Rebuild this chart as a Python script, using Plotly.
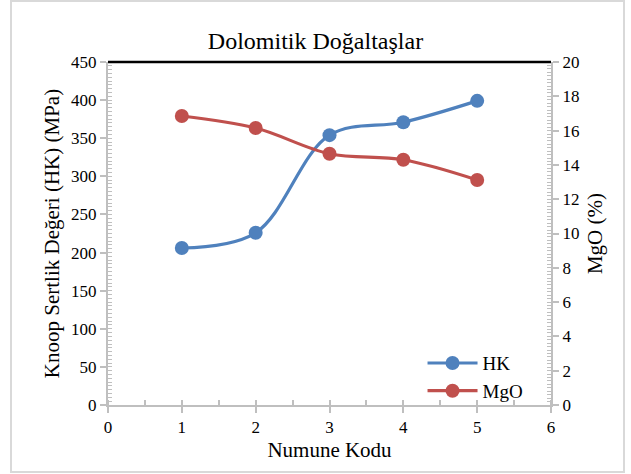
import plotly.graph_objects as go

# Sample codes and measured values
numune = [1, 2, 3, 4, 5]
hk = [206, 226, 354, 371, 399]          # Knoop hardness (MPa)
mgo = [16.85, 16.15, 14.65, 14.3, 13.12]  # MgO content (%)

FONT = "Times New Roman, Liberation Serif, DejaVu Serif, serif"
AXIS_GRAY = "#bfbfbf"

fig = go.Figure()

fig.add_trace(go.Scatter(
    x=numune, y=hk, name="HK", mode="lines+markers",
    line=dict(color="#4f81bd", width=3.2, shape="spline", smoothing=1),
    marker=dict(color="#4f81bd", size=14),
))
fig.add_trace(go.Scatter(
    x=numune, y=mgo, name="MgO", mode="lines+markers", yaxis="y2",
    line=dict(color="#c0504d", width=3.2, shape="spline", smoothing=1),
    marker=dict(color="#c0504d", size=14),
))

fig.update_layout(
    width=631, height=474,
    margin=dict(l=108, r=80, t=62, b=69),
    paper_bgcolor="white", plot_bgcolor="white",
    font=dict(family=FONT, color="black", size=16),
    title=dict(text="Dolomitik Doğaltaşlar", x=0.5, xanchor="center",
               y=0.915, yanchor="middle", font=dict(family=FONT, size=24)),
    showlegend=True,
    legend=dict(x=0.71, y=-0.015, xanchor="left", yanchor="bottom",
                bgcolor="rgba(0,0,0,0)", font=dict(family=FONT, size=19),
                itemwidth=50, tracegroupgap=0),
    xaxis=dict(
        range=[0, 6], dtick=1, showgrid=False, zeroline=False,
        showline=True, linecolor=AXIS_GRAY, linewidth=2,
        ticks="outside", ticklen=6, tickcolor=AXIS_GRAY, tickwidth=2,
        minor=dict(dtick=0.5, ticks="inside", ticklen=5, tickcolor=AXIS_GRAY, tickwidth=2),
        tickfont=dict(family=FONT, size=17),
        title=dict(text="Numune Kodu", font=dict(family=FONT, size=21), standoff=6),
    ),
    yaxis=dict(
        range=[0, 450], dtick=50, showgrid=False, zeroline=False,
        showline=True, linecolor=AXIS_GRAY, linewidth=2,
        ticks="outside", ticklen=6, tickcolor=AXIS_GRAY, tickwidth=2,
        minor=dict(dtick=5, ticks="inside", ticklen=4, tickcolor=AXIS_GRAY, tickwidth=1),
        tickfont=dict(family=FONT, size=17),
        title=dict(text="Knoop Sertlik Değeri (HK) (MPa)", font=dict(family=FONT, size=21), standoff=6),
    ),
    yaxis2=dict(
        range=[0, 20], dtick=2, overlaying="y", side="right",
        showgrid=False, zeroline=False,
        showline=True, linecolor=AXIS_GRAY, linewidth=2,
        ticks="outside", ticklen=6, tickcolor=AXIS_GRAY, tickwidth=2,
        minor=dict(dtick=0.2, ticks="inside", ticklen=4, tickcolor=AXIS_GRAY, tickwidth=1),
        tickfont=dict(family=FONT, size=17),
        title=dict(text="MgO (%)", font=dict(family=FONT, size=21), standoff=8),
    ),
    shapes=[
        # black rule along the top of the plot area
        dict(type="line", xref="paper", yref="paper", x0=0, x1=1, y0=1, y1=1,
             line=dict(color="black", width=2.5)),
        # light frame around the chart
        dict(type="rect", xref="paper", yref="paper",
             x0=(11 - 108) / 443, x1=(624 - 108) / 443,
             y0=(405 - 472) / 343, y1=(405 - 1) / 343,
             line=dict(color="#d9d9d9", width=2), layer="below"),
    ],
)

fig.write_html("out.html")
